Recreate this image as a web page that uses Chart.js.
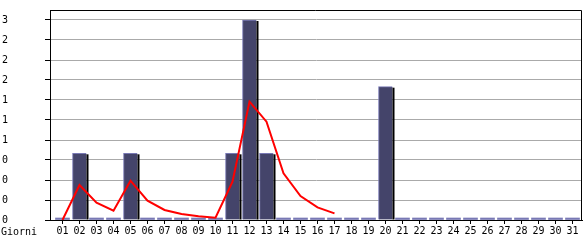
<!DOCTYPE html>
<html>
<head>
<meta charset="utf-8">
<script src="https://cdn.jsdelivr.net/npm/chart.js@4/dist/chart.umd.min.js"></script>
<style>
    body { margin: 0; background: #fff; }
    #wrap { width: 585px; height: 240px; }
</style>
</head>
<body>
<div id="wrap"><canvas id="visiteChart" width="585" height="240"></canvas></div>
<script>
const giorni = ['01','02','03','04','05','06','07','08','09','10','11','12','13','14','15','16',
                '17','18','19','20','21','22','23','24','25','26','27','28','29','30','31'];
const visite = [0,1,0,0,1,0,0,0,0,0,1,3,1,0,0,0,0,0,0,2,0,0,0,0,0,0,0,0,0,0,0];
// linea di tendenza, solo fino al giorno 17
const tendenza = [0, 0.525, 0.26, 0.14, 0.59, 0.29, 0.15, 0.09, 0.055, 0.035,
                  0.575, 1.775, 1.475, 0.70, 0.36, 0.19, 0.10];
const yTickValues = [0, 0.3, 0.6, 0.9, 1.2, 1.5, 1.8, 2.1, 2.4, 2.7, 3];
const yTickLabels = ['0','0','0','0','1','1','1','2','2','2','3'];

const font = { family: '"DejaVu Sans Mono", monospace', size: 10 };

const extras = {
    id: 'extras',
    afterDatasetDraw(chart, args) {
        if (args.index !== 0) return;
        const ctx = chart.ctx;
        ctx.save();
        ctx.fillStyle = '#000';
        args.meta.data.forEach((bar, i) => {
            if (!visite[i]) return;
            const p = bar.getProps(['x', 'y', 'base', 'width'], true);
            ctx.fillRect(p.x + p.width / 2, p.y + 1, 2, p.base - p.y - 1);
        });
        ctx.restore();
    },
    afterDraw(chart) {
        const a = chart.chartArea, ctx = chart.ctx;
        ctx.save();
        ctx.strokeStyle = '#000';
        ctx.lineWidth = 1;
        ctx.beginPath();
        ctx.moveTo(a.left, a.top + 0.5);
        ctx.lineTo(a.right - 0.5, a.top + 0.5);
        ctx.lineTo(a.right - 0.5, a.bottom);
        ctx.stroke();
        ctx.font = '10px "DejaVu Sans Mono"';
        ctx.fillStyle = '#000';
        ctx.textBaseline = 'middle';
        ctx.fillText('Giorni', 1, 232);
        ctx.restore();
    }
};

new Chart(document.getElementById('visiteChart'), {
    type: 'bar',
    data: {
        datasets: [{
            type: 'bar',
            data: visite.map((v, i) => ({ x: i + 1, y: v })),
            backgroundColor: c => visite[c.dataIndex] ? '#44446a' : '#7878b4',
            borderColor: '#7878b4',
            borderWidth: c => visite[c.dataIndex] ? { left: 1, top: 1, right: 0, bottom: 0 } : 0,
            borderSkipped: false,
            barThickness: 14,
            minBarLength: 2,
            order: 2
        }, {
            type: 'line',
            data: tendenza.map((v, i) => ({ x: i + 1, y: v })),
            borderColor: '#ff0000',
            borderWidth: 2,
            pointRadius: 0,
            fill: false,
            tension: 0,
            order: 1
        }]
    },
    options: {
        responsive: false,
        animation: false,
        layout: { padding: { top: 10, right: 3, left: 2, bottom: 0 } },
        plugins: { legend: { display: false }, tooltip: { enabled: false } },
        scales: {
            x: {
                type: 'linear',
                offset: false,
                min: 0.2647,
                max: 31.559,
                afterBuildTicks: s => { s.ticks = giorni.map((g, i) => ({ value: i + 1 })); },
                afterFit: s => { s.height = 20; },
                ticks: {
                    callback: (v, i) => giorni[i],
                    autoSkip: false,
                    maxRotation: 0,
                    padding: 1,
                    color: '#000',
                    font: font
                },
                grid: { drawOnChartArea: false, tickLength: 4, tickColor: '#000', offset: false },
                border: { color: '#000' }
            },
            y: {
                min: 0,
                max: 3.15,
                afterBuildTicks: s => { s.ticks = yTickValues.map(v => ({ value: v })); },
                afterFit: s => { s.width = 48; },
                ticks: {
                    callback: (v, i) => yTickLabels[i],
                    crossAlign: 'far',
                    color: '#000',
                    font: font
                },
                grid: { color: '#aaaaaa', tickLength: 5, tickColor: '#000' },
                border: { color: '#000' }
            }
        }
    },
    plugins: [extras]
});
</script>
</body>
</html>
